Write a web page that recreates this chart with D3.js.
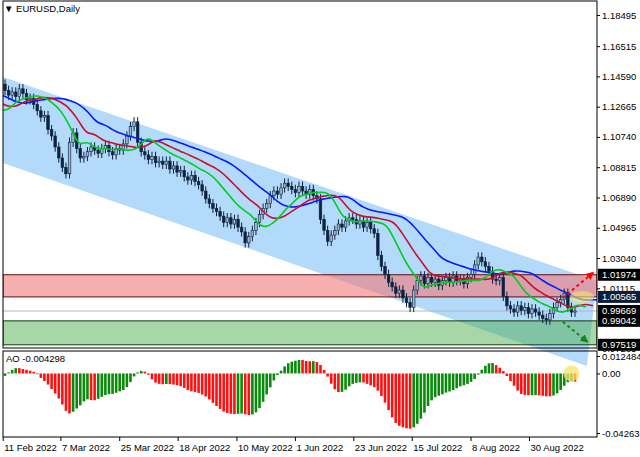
<!DOCTYPE html>
<html><head><meta charset="utf-8">
<script src="https://cdn.jsdelivr.net/npm/d3@7"></script>
<style>body{margin:0;background:#fff}text{font-family:"Liberation Sans",Arial,sans-serif;font-size:9.5px}</style>
</head><body><svg id="c" width="640" height="457"></svg>
<script>
// closes of the bars before the visible window (feed the indicators only)
var priorCloses = [1.132,1.133,1.131,1.136,1.133,1.130,1.129,1.131,1.136,1.137,1.144,1.146,1.141,1.141,1.134,
  1.131,1.134,1.133,1.130,1.133,1.132,1.128,1.124,1.115,1.114,1.121,1.124,1.127,1.129,1.141];
// daily closes
var closes = [1.137,1.134,1.136,1.133,1.138,1.135,1.131,1.132,
  1.128,1.124,1.120,1.121,1.112,1.108,1.101,1.094,1.088,
  1.084,1.104,1.110,1.100,1.094,1.095,1.098,
  1.101,1.099,1.097,1.100,1.102,1.098,1.096,1.100,1.099,1.103,1.108,
  1.114,1.117,1.104,1.098,1.096,1.093,1.095,1.091,1.092,
  1.090,1.092,1.087,1.089,1.085,1.086,1.082,1.080,1.083,1.079,1.077,
  1.073,1.068,1.065,1.062,1.060,
  1.057,1.053,1.056,1.052,1.055,1.050,1.047,1.040,1.044,
  1.048,1.053,1.058,1.062,1.065,1.070,
  1.073,1.071,1.075,1.078,1.076,1.074,1.072,1.076,1.073,1.071,1.074,
  1.070,1.068,1.055,1.048,1.041,1.045,
  1.048,1.052,1.050,1.054,1.056,1.055,1.052,1.054,1.050,1.053,1.049,1.046,
  1.032,1.025,1.020,1.015,1.012,1.008,1.010,1.005,1.002,0.999,
  1.010,1.016,1.019,1.014,1.018,1.015,1.017,1.013,1.016,
  1.018,1.015,1.019,1.016,1.017,1.014,1.018,1.020,
  1.026,1.031,1.028,1.025,1.022,1.017,1.016,1.018,1.006,1.000,
  0.998,0.996,1.000,0.997,0.999,0.995,0.998,0.996,0.994,0.992,0.991,
  0.995,0.999,1.002,1.004,1.008,0.999,0.996,0.9967];
var dateLabels = [["11 Feb 2022",-0.5],["7 Mar 2022",15.6],["25 Mar 2022",32],["18 Apr 2022",48.3],
  ["10 May 2022",64.7],["1 Jun 2022",81],["23 Jun 2022",97.3],["15 Jul 2022",113.6],
  ["8 Aug 2022",130],["30 Aug 2022",146.3]];
var priceTicks = [1.18495,1.16515,1.14590,1.12665,1.10740,1.08815,1.06890,1.04965,1.03040,1.01115,0.97285];
var levels = [1.01974,1.00565,0.99669,0.99042,0.97519];
var aoTicks = [0.012484,0.00,-0.042635];
var redZone = [1.01974,1.00565], greenZone = [0.99042,0.97519];
// channel corners [bar index, price]
var channel = [[-1.4,1.14616],[165.1,1.01578],[162.3,0.96173],[-1.4,1.09146]];
var redArrow = [[155.6,1.0050],[164,1.0210]], greenArrow = [[155.6,0.9898],[162.4,0.9772]];

var svg = d3.select("#c");
var L = 3, R = 597, P = priorCloses.length;
var x = d3.scaleLinear().domain([0, 159]).range([5, 575]);
var y = d3.scaleLinear().domain([1.18495, 1.03040]).range([15, 258]);
var ya = d3.scaleLinear().domain([0.012484, -0.042635]).range([356, 433]);

var all = priorCloses.concat(closes);
var bars = all.map(function (c, k) {
  var o = k ? all[k - 1] : c;
  return {i: k - P, o: o, c: c, h: Math.max(o, c) + 0.003, l: Math.min(o, c) - 0.003};
});
function sma(arr, n) {
  return arr.map(function (v, i) { return d3.mean(arr.slice(Math.max(0, i - n + 1), i + 1)); });
}
function smma(arr, n) {
  var out = [], s = arr[0];
  arr.forEach(function (v) { s = (s * (n - 1) + v) / n; out.push(s); });
  return out;
}
var med = bars.map(function (b) { return (b.h + b.l) / 2; });
var s5 = sma(med, 5), s34 = sma(med, 34);
var ao = med.map(function (v, k) { return {i: k - P, v: s5[k] - s34[k], up: k && s5[k] - s34[k] >= s5[k - 1] - s34[k - 1]}; })
  .filter(function (d) { return d.i >= 0; });
var shown = bars.filter(function (b) { return b.i >= 0; });

var defs = svg.append("defs");
defs.append("clipPath").attr("id", "pc").append("rect")
  .attr("x", L).attr("y", 1).attr("width", R - L).attr("height", 436);
defs.append("clipPath").attr("id", "mc").append("rect")
  .attr("x", L).attr("y", 1).attr("width", R - L).attr("height", 347);
["r", "g"].forEach(function (k) {
  defs.append("marker").attr("id", "ah" + k).attr("viewBox", "0 0 10 10")
    .attr("refX", 8).attr("refY", 5).attr("markerWidth", 4).attr("markerHeight", 4).attr("orient", "auto")
    .append("path").attr("d", "M0,0L10,5L0,10z").attr("fill", k === "r" ? "#ff0000" : "#118811");
});

var g = svg.append("g").attr("clip-path", "url(#pc)");
g.append("polygon").attr("fill", "#b3dafa")
  .attr("points", channel.map(function (p) { return x(p[0]) + "," + y(p[1]); }).join(" "));

var m = svg.append("g").attr("clip-path", "url(#mc)");
m.append("rect").attr("x", L).attr("width", R - L).attr("y", y(redZone[0]))
  .attr("height", y(redZone[1]) - y(redZone[0])).attr("fill", "#f27878").attr("fill-opacity", 0.6)
  .attr("stroke", "#5a1010").attr("stroke-width", 1);
m.append("rect").attr("x", L).attr("width", R - L).attr("y", y(greenZone[0]))
  .attr("height", y(greenZone[1]) - y(greenZone[0])).attr("fill", "#4fae4f").attr("fill-opacity", 0.5)
  .attr("stroke", "#0d3d0d").attr("stroke-width", 1);
m.append("line").attr("x1", L).attr("x2", R).attr("y1", y(0.99669)).attr("y2", y(0.99669))
  .attr("stroke", "#b0b8c0");

var cg = m.selectAll("g.cd").data(shown).enter().append("g");
cg.append("line").attr("x1", function (b) { return x(b.i); }).attr("x2", function (b) { return x(b.i); })
  .attr("y1", function (b) { return y(b.h); }).attr("y2", function (b) { return y(b.l); })
  .attr("stroke", "#0c2340");
cg.append("rect").attr("x", function (b) { return x(b.i) - 1.3; }).attr("width", 2.6)
  .attr("y", function (b) { return y(Math.max(b.o, b.c)); })
  .attr("height", function (b) { return Math.max(1, Math.abs(y(b.o) - y(b.c))); })
  .attr("fill", function (b) { return b.c >= b.o ? "#9fb3c8" : "#0c2340"; })
  .attr("stroke", "#0c2340").attr("stroke-width", 0.6);

// alligator: jaw, teeth, lips (smoothed MA of median, shifted forward)
[[13, 8, "#0a1aff"], [8, 5, "#c8102e"], [5, 3, "#00cc22"]].forEach(function (a) {
  var s = smma(med, a[0]).map(function (v, k) { return [k - P + a[1], v]; })
    .filter(function (d) { return d[0] >= -2; });
  m.append("path").datum(s).attr("fill", "none").attr("stroke", a[2]).attr("stroke-width", 1.6)
    .attr("d", d3.line().curve(d3.curveBasis).x(function (d) { return x(d[0]); }).y(function (d) { return y(d[1]); }));
});
m.append("ellipse").attr("cx", 582).attr("cy", 297).attr("rx", 12).attr("ry", 6)
  .attr("fill", "#f5e66a").attr("fill-opacity", 0.6);
[[redArrow, "#ff0000", "r"], [greenArrow, "#118811", "g"]].forEach(function (a) {
  m.append("line").attr("x1", x(a[0][0][0])).attr("y1", y(a[0][0][1]))
    .attr("x2", x(a[0][1][0])).attr("y2", y(a[0][1][1]))
    .attr("stroke", a[1]).attr("stroke-width", 2).attr("stroke-dasharray", "3,3")
    .attr("marker-end", "url(#ah" + a[2] + ")");
});

// AO
var ag = svg.append("g").attr("clip-path", "url(#pc)");
ag.selectAll("rect").data(ao).enter().append("rect")
  .attr("x", function (d) { return x(d.i) - 1.3; }).attr("width", 2.6)
  .attr("y", function (d) { return Math.min(ya(d.v), ya(0)); })
  .attr("height", function (d) { return Math.abs(ya(d.v) - ya(0)); })
  .attr("fill", function (d) { return d.up ? "#0a8a0a" : "#ff1010"; });
ag.append("circle").attr("cx", x(158)).attr("cy", ya(0)).attr("r", 8)
  .attr("fill", "#f5e66a").attr("fill-opacity", 0.75);

// frames
svg.append("rect").attr("x", L).attr("y", 1).attr("width", R - L).attr("height", 347)
  .attr("fill", "none").attr("stroke", "#000");
svg.append("rect").attr("x", L).attr("y", 351).attr("width", R - L).attr("height", 86)
  .attr("fill", "none").attr("stroke", "#000");

function tidy(a) { a.select(".domain").remove(); a.selectAll("text").attr("font-size", 9.5).attr("font-family", null).attr("x", 5); }
svg.append("g").attr("transform", "translate(" + R + ",0)")
  .call(d3.axisRight(y).tickValues(priceTicks).tickSize(3).tickFormat(d3.format(".5f"))).call(tidy);
svg.append("g").attr("transform", "translate(" + R + ",0)")
  .call(d3.axisRight(ya).tickValues(aoTicks).tickSize(3)
    .tickFormat(function (d) { return d === 0 ? "0.00" : String(d); })).call(tidy);

var lb = svg.selectAll("g.lv").data(levels).enter().append("g")
  .attr("transform", function (d) { return "translate(" + (R + 1) + "," + y(d) + ")"; });
lb.append("rect").attr("y", -6).attr("width", 42).attr("height", 12)
  .attr("fill", function (d) { return d === 1.00565 ? "#0b1d3a" : "#000"; });
lb.append("text").attr("x", 4).attr("dy", "0.35em").attr("fill", "#fff").text(function (d) { return d.toFixed(5); });

var xa = svg.append("g");
dateLabels.forEach(function (d) {
  xa.append("line").attr("x1", x(d[1])).attr("x2", x(d[1])).attr("y1", 437).attr("y2", 441).attr("stroke", "#000");
  xa.append("text").attr("x", x(d[1]) + 1).attr("y", 451).attr("font-size", 9).text(d[0]);
});

svg.append("text").attr("x", 4).attr("y", 12).text("\u25BC EURUSD,Daily");
svg.append("text").attr("x", 6).attr("y", 362).text("AO -0.004298");
</script></body></html>
